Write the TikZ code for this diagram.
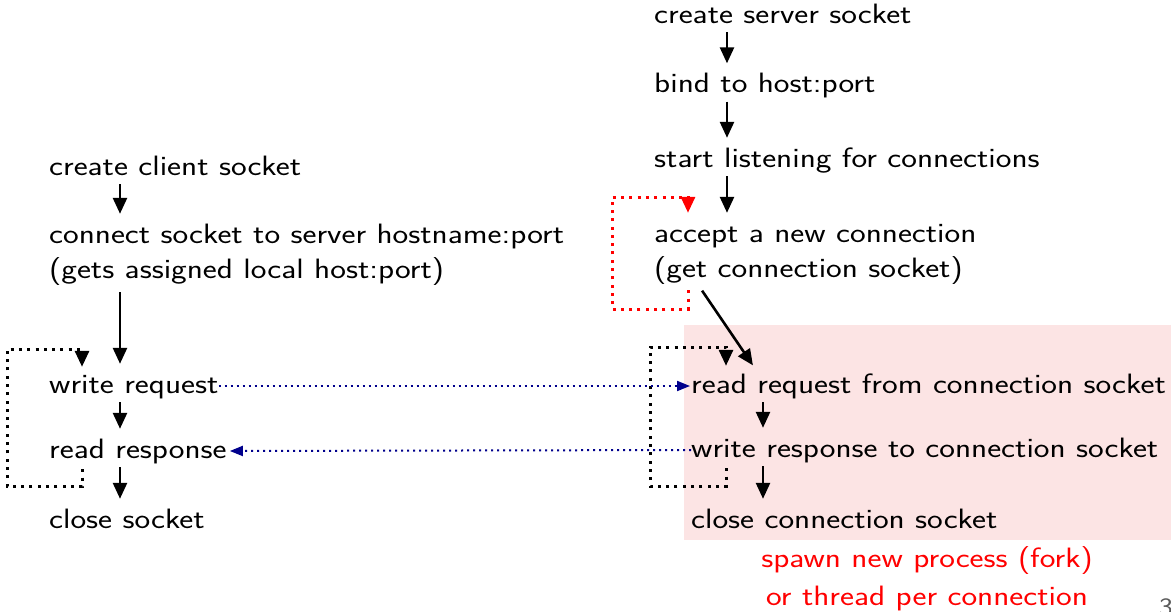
\documentclass[tikz,border=0pt]{standalone}
\usetikzlibrary{arrows.meta}
\definecolor{boxpink}{RGB}{252,228,228}
\definecolor{msgblue}{RGB}{0,0,140}
\definecolor{pagegray}{RGB}{90,90,90}
\newcommand\wide[1]{\scalebox{1.19}[1]{#1}}
\begin{document}
\begin{tikzpicture}[x=1pt,y=-1pt,
  txt/.style={inner sep=0, anchor=base west, text height=20, text depth=6,
    font=\fontsize{28}{35}\selectfont\sffamily},
  note/.style={txt, anchor=base, text=red},
  pagenum/.style={inner sep=0, anchor=base west, text=pagegray,
    font=\fontsize{25}{28}\selectfont\sffamily},
  arr/.style={line width=2.6, -{Triangle[length=16,width=14]},
    shorten <=3, shorten >=9},
  dotloop/.style={line width=3, dash pattern=on 3 off 5.3,
    -{Triangle[length=16,width=14]}},
  msg/.style={msgblue, line width=2, dash pattern=on 2 off 4,
    -{Triangle[length=13,width=10]}}]
\useasboundingbox (0,0) rectangle (1171,611);

% per-connection region
\fill[boxpink] (684,325) rectangle (1171,540);

% server steps
\node[txt] (css)    at (654,23)   {\wide{create server socket}};
\node[txt] (bind)   at (654,92.5) {\wide{bind to host:port}};
\node[txt] (listen) at (654,167)  {\wide{start listening for connections}};
\node[txt] (accept) at (654,242)  {\wide{accept a new connection}};
\node[txt] (getcs)  at (654,277)  {\wide{(get connection socket)}};

% client steps
\node[txt] (ccs)      at (49,175) {\wide{create client socket}};
\node[txt] (connect)  at (49,243) {\wide{connect socket to server hostname:port}};
\node[txt] (assigned) at (49,278) {\wide{(gets assigned local host:port)}};
\node[txt] (wreq)     at (49,393) {\wide{write request}};
\node[txt] (rresp)    at (49,458) {\wide{read response}};
\node[txt] (close)    at (49,528) {\wide{close socket}};

% per-connection steps
\node[txt] (rreq)   at (691,393) {\wide{read request from connection socket}};
\node[txt] (wresp)  at (691,457) {\wide{write response to connection socket}};
\node[txt] (cclose) at (691,528) {\wide{close connection socket}};

\node[note] (spawn)   at (927,567) {\wide{spawn new process (fork)}};
\node[note] (perconn) at (927,605) {\wide{or thread per connection}};

\node[pagenum] (pg) at (1159,615) {\wide{3}};

% columns of the connectors
\coordinate (sx) at (727,0);
\coordinate (cx) at (120,0);
\coordinate (bx) at (763,0);
\coordinate (lx) at (82,0);
\coordinate (kx) at (726,0);
\coordinate (rx) at (688,0);
\coordinate (dx1) at (697,0);
\coordinate (dx2) at (758,0);

% server flow
\draw[arr] (css.south -| sx) -- (bind.north -| sx);
\draw[arr] (bind.south -| sx) -- (listen.north -| sx);
\draw[arr] (listen.south -| sx) -- (accept.north -| sx);
\draw[arr, shorten <=9] (getcs.south -| dx1) -- (rreq.north -| dx2);

% client flow
\draw[arr] (ccs.south -| cx) -- (connect.north -| cx);
\draw[arr, shorten <=8] (assigned.south -| cx) -- (wreq.north -| cx);
\draw[arr] (wreq.south -| cx) -- (rresp.north -| cx);
\draw[arr] (rresp.south -| cx) -- (close.north -| cx);

% per-connection flow
\draw[arr] (rreq.south -| bx) -- (wresp.north -| bx);
\draw[arr] (wresp.south -| bx) -- (cclose.north -| bx);

% repeat loops
\coordinate (c1) at (82,486);  \coordinate (c2) at (7,486);
\coordinate (c3) at (7,349);   \coordinate (c4) at (82,349);
\draw[dotloop, shorten <=5, shorten >=6]
  (rresp.south -| lx) -- (c1) -- (c2) -- (c3) -- (c4) -- (wreq.north -| lx);

\coordinate (k1) at (726,486); \coordinate (k2) at (650,486);
\coordinate (k3) at (650,347); \coordinate (k4) at (726,347);
\draw[dotloop, shorten <=5, shorten >=7]
  (wresp.south -| kx) -- (k1) -- (k2) -- (k3) -- (k4) -- (rreq.north -| kx);

\coordinate (r1) at (688,309); \coordinate (r2) at (612,309);
\coordinate (r3) at (612,197); \coordinate (r4) at (688,197);
\draw[dotloop, red, shorten <=7, shorten >=9]
  (getcs.south -| rx) -- (r1) -- (r2) -- (r3) -- (r4) -- (accept.north -| rx);

% messages
\draw[msg, shorten >=1] (wreq.east) -- (rreq.west);
\draw[msg, shorten >=3] (wresp.west) -- (rresp.east);
\end{tikzpicture}
\end{document}
